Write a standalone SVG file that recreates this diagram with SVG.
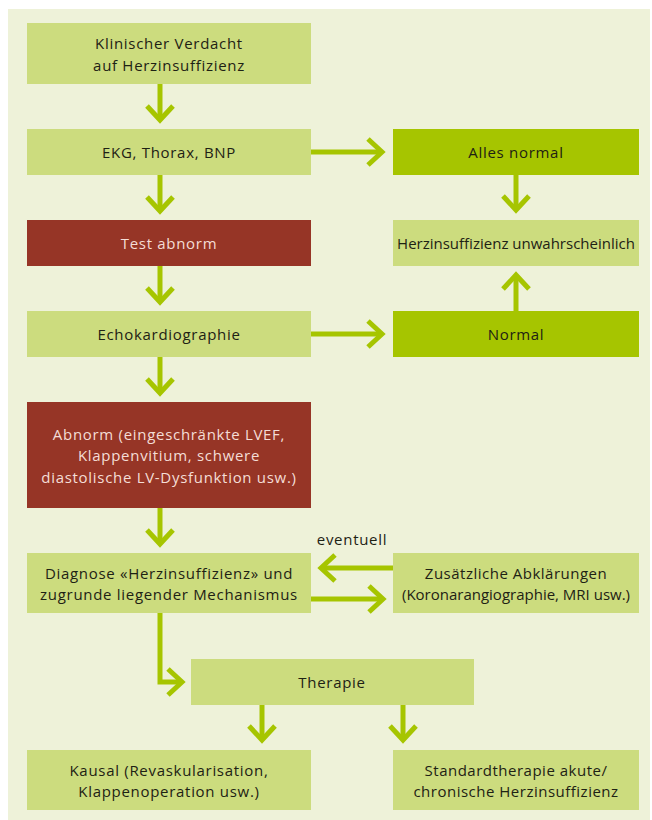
<svg xmlns="http://www.w3.org/2000/svg" width="652" height="820" viewBox="0 0 652 820">
  <style>
    .panel { fill: #EEF2D9; }
    .light { fill: #CCDC7E; }
    .bright { fill: #A6C500; }
    .red { fill: #963526; }
    text { font-family: "Open Sans", "Noto Sans", "Liberation Sans", sans-serif; font-size: 15px; letter-spacing: 0.7px; text-anchor: middle; fill: #1E2214; }
    .red-label { fill: #F4DDD6; }
    .tight { letter-spacing: 0px; }
    .semi { letter-spacing: 0.5px; }
    .conn path { fill: none; stroke: #A6C500; stroke-width: 5; }
    .conn .head { stroke-linejoin: miter; stroke-linecap: butt; }
  </style>

  <rect class="panel" x="8" y="9" width="642" height="811"/>

  <!-- connectors -->
  <g class="conn" id="connectors">
    <!-- Verdacht -> EKG -->
    <path d="M160,84 V120"/>
    <path class="head" d="M147,106 L160,120 L173,106"/>
    <!-- EKG -> Test abnorm -->
    <path d="M160,175 V211"/>
    <path class="head" d="M147,197 L160,211 L173,197"/>
    <!-- Test abnorm -> Echo -->
    <path d="M160,266 V302"/>
    <path class="head" d="M147,288 L160,302 L173,288"/>
    <!-- Echo -> Abnorm -->
    <path d="M160,357 V393"/>
    <path class="head" d="M147,379 L160,393 L173,379"/>
    <!-- Abnorm -> Diagnose -->
    <path d="M160,508 V544"/>
    <path class="head" d="M147,530 L160,544 L173,530"/>
    <!-- EKG -> Alles normal -->
    <path d="M311,152 H382"/>
    <path class="head" d="M368,139 L382,152 L368,165"/>
    <!-- Alles normal -> unwahrscheinlich -->
    <path d="M516,175 V210"/>
    <path class="head" d="M503,196 L516,210 L529,196"/>
    <!-- Normal -> unwahrscheinlich -->
    <path d="M516,311 V275"/>
    <path class="head" d="M503,289 L516,275 L529,289"/>
    <!-- Echo -> Normal -->
    <path d="M311,334 H382"/>
    <path class="head" d="M368,321 L382,334 L368,347"/>
    <!-- Zusaetzliche -> Diagnose -->
    <path d="M393,568 H321"/>
    <path class="head" d="M335,555 L321,568 L335,581"/>
    <!-- Diagnose -> Zusaetzliche -->
    <path d="M311,599 H383"/>
    <path class="head" d="M369,586 L383,599 L369,612"/>
    <!-- Diagnose -> Therapie -->
    <path d="M160,613 V682 H181"/>
    <path class="head" d="M168,669 L182,682 L168,695"/>
    <!-- Therapie -> Kausal -->
    <path d="M262,705 V740"/>
    <path class="head" d="M249,726 L262,740 L275,726"/>
    <!-- Therapie -> Standardtherapie -->
    <path d="M403,705 V740"/>
    <path class="head" d="M390,726 L403,740 L416,726"/>
  </g>
  <text x="352" y="545">eventuell</text>

  <g id="verdacht">
    <rect class="light" x="27" y="23" width="284" height="61"/>
    <text x="169" y="49">Klinischer Verdacht</text>
    <text x="169" y="71">auf Herzinsuffizienz</text>
  </g>
  <g id="ekg">
    <rect class="light" x="27" y="129" width="284" height="46"/>
    <text x="169" y="158">EKG, Thorax, BNP</text>
  </g>
  <g id="test-abnorm">
    <rect class="red" x="27" y="220" width="284" height="46"/>
    <text class="red-label" x="169" y="249">Test abnorm</text>
  </g>
  <g id="echo">
    <rect class="light" x="27" y="311" width="284" height="46"/>
    <text x="169" y="340">Echokardiographie</text>
  </g>
  <g id="abnorm">
    <rect class="red" x="27" y="402" width="284" height="106"/>
    <text class="red-label" x="169" y="440">Abnorm (eingeschränkte LVEF,</text>
    <text class="red-label" x="169" y="461">Klappenvitium, schwere</text>
    <text class="red-label" x="169" y="483">diastolische LV-Dysfunktion usw.)</text>
  </g>
  <g id="diagnose">
    <rect class="light" x="27" y="553" width="284" height="60"/>
    <text x="169" y="579">Diagnose «Herzinsuffizienz» und</text>
    <text x="169" y="600">zugrunde liegender Mechanismus</text>
  </g>
  <g id="alles-normal">
    <rect class="bright" x="393" y="129" width="246" height="46"/>
    <text x="516" y="158">Alles normal</text>
  </g>
  <g id="unwahrscheinlich">
    <rect class="light" x="393" y="220" width="246" height="46"/>
    <text class="tight" x="516" y="249">Herzinsuffizienz unwahrscheinlich</text>
  </g>
  <g id="normal">
    <rect class="bright" x="393" y="311" width="246" height="46"/>
    <text x="516" y="340">Normal</text>
  </g>
  <g id="abklaerungen">
    <rect class="light" x="393" y="553" width="246" height="60"/>
    <text class="semi" x="516" y="579">Zusätzliche Abklärungen</text>
    <text class="tight" x="516" y="600">(Koronarangiographie, MRI usw.)</text>
  </g>
  <g id="therapie">
    <rect class="light" x="191" y="659" width="283" height="46"/>
    <text x="332" y="688">Therapie</text>
  </g>
  <g id="kausal">
    <rect class="light" x="27" y="750" width="284" height="60"/>
    <text x="169" y="776">Kausal (Revaskularisation,</text>
    <text x="169" y="797">Klappenoperation usw.)</text>
  </g>
  <g id="standard">
    <rect class="light" x="393" y="750" width="246" height="60"/>
    <text class="semi" x="516" y="776">Standardtherapie akute/</text>
    <text class="semi" x="516" y="797">chronische Herzinsuffizienz</text>
  </g>
</svg>
